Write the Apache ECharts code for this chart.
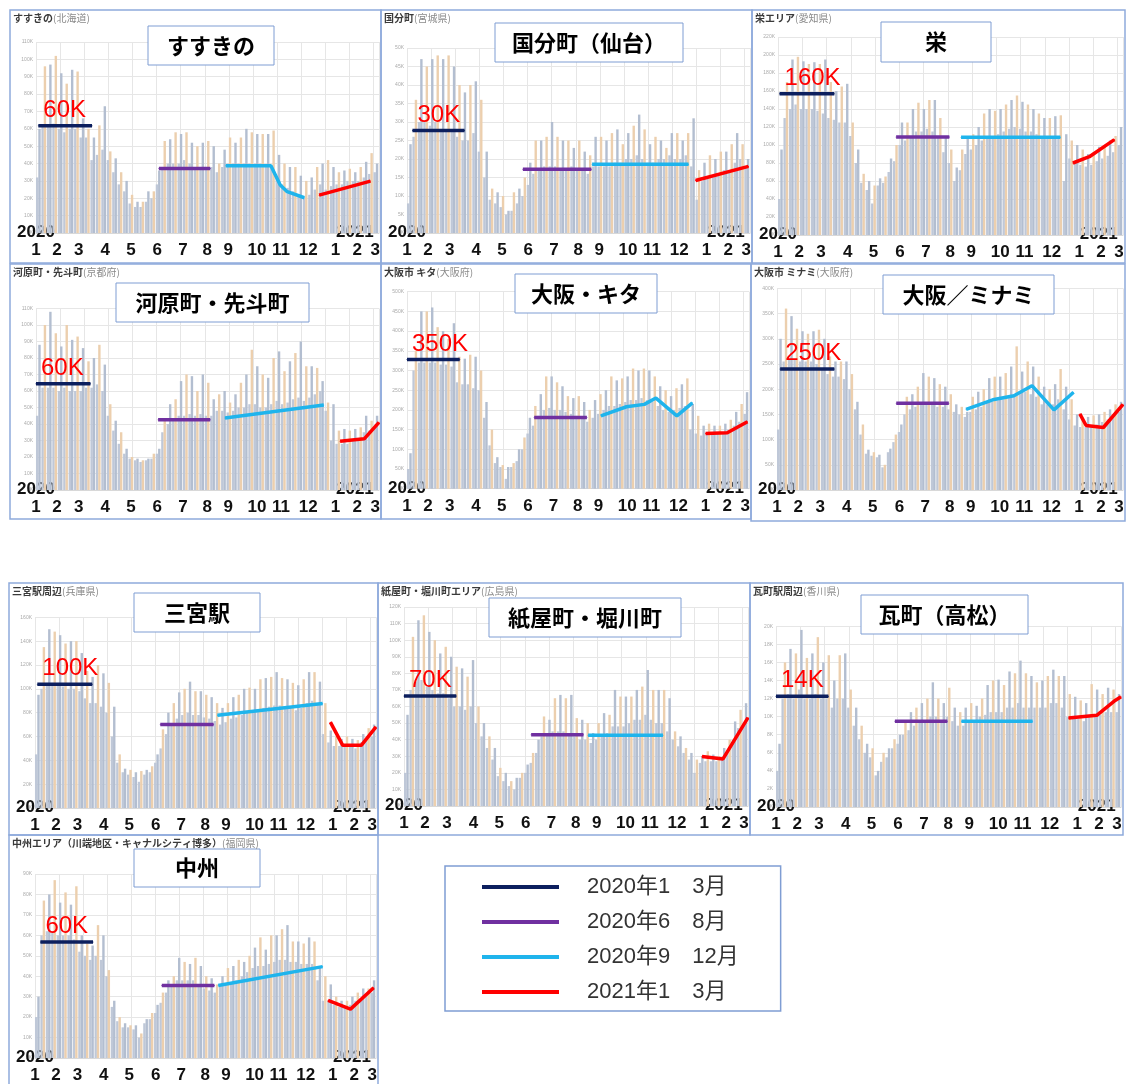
<!DOCTYPE html>
<html><head><meta charset="utf-8">
<script src="https://cdn.jsdelivr.net/npm/echarts@6/dist/echarts.min.js"></script>
<style>html,body{margin:0;padding:0;background:#fff}#c{width:1129px;height:1084px}</style>
</head><body><div id="c"></div>
<script>
// ---------- text ----------
const areaTitles = ['すすきの','国分町（仙台）','栄','河原町・先斗町','大阪・キタ','大阪／ミナミ','三宮駅','紙屋町・堀川町','瓦町（高松）','中州'];
const areaNames = ['すすきの','国分町','栄エリア','河原町・先斗町','大阪市 キタ','大阪市 ミナミ','三宮駅周辺','紙屋町・堀川町エリア','瓦町駅周辺','中州エリア（川端地区・キャナルシティ博多）'];
const prefectures = ['(北海道)','(宮城県)','(愛知県)','(京都府)','(大阪府)','(大阪府)','(兵庫県)','(広島県)','(香川県)','(福岡県)'];
const levelLabels = ['60K','30K','160K','60K','350K','250K','100K','70K','14K','60K'];
const periodNames = ['2020年1　3月','2020年6　8月','2020年9　12月','2021年1　3月'];
const monthLabels = ['1','2','3','4','5','6','7','8','9','10','11','12','1','2','3'];
const monthLabelDays = [0,27,55,89,122,156,189,220,247,284,315,350,385,413,436];
const yearLabels = ['2020','2021'];
const yearLabelDays = [0,410];
const yMax = [110,50,220,110,500,400,160,120,20,90];
const yStep = [10,5,20,10,50,50,20,10,2,10];

// ---------- weekly values (thousands of people), week k starts on day 7k from 2020-01-01 ----------
const peakSusukino = [60,96,97,102,92,86,94,93,66,60,55,62,73,47,43,35,30,22,18,18,24,24,36,53,54,58,57,58,52,50,52,53,50,40,48,55,52,55,60,58,57,57,57,59,45,40,38,38,33,30,32,38,40,42,38,35,36,37,35,38,41,46,40];
const baseSusukino = [32,62,62,63,60,58,60,60,55,55,42,45,48,42,35,28,24,17,15,15,18,20,28,38,40,40,40,42,40,38,38,38,38,35,38,40,40,40,40,40,40,40,38,38,32,28,26,24,22,20,22,25,28,25,27,28,28,30,30,30,32,34,35];
const peakKokubuncho = [24,36,47,45,47,48,47,48,45,40,38,40,41,36,22,12,11,10,6,11,12,15,19,25,25,26,30,26,25,25,23,25,22,21,26,26,25,27,28,24,27,29,32,28,24,26,25,23,27,27,25,27,31,17,19,21,20,22,22,24,27,24,20];
const baseKokubuncho = [8,26,30,30,29,30,28,28,28,26,25,25,27,22,15,9,8,7,5,6,8,10,13,16,17,18,18,18,17,17,18,17,17,16,18,18,18,18,19,19,20,20,21,20,19,19,20,20,21,20,20,21,18,9,14,15,15,16,17,17,19,20,18];
const peakSakae = [95,170,195,198,193,190,192,190,195,170,160,165,168,125,95,68,60,55,63,65,85,100,125,125,140,147,140,150,150,130,110,95,75,95,110,112,120,135,140,138,140,145,150,155,148,145,140,135,130,130,132,133,112,105,100,95,90,92,98,100,105,110,120];
const baseSakae = [40,130,140,145,140,140,140,138,135,130,128,125,125,110,80,58,50,35,55,58,70,82,100,105,110,115,115,118,115,110,92,80,60,72,90,95,100,105,110,110,112,115,118,120,118,115,115,112,110,110,110,108,60,85,82,78,76,78,82,85,88,92,100];
const peakKawaramachi = [88,100,108,95,87,100,91,93,86,78,80,88,76,52,42,35,25,20,19,18,19,22,25,42,52,55,66,70,69,60,70,65,55,58,60,53,58,65,70,85,75,70,68,80,84,72,78,83,90,75,75,74,66,53,52,36,37,36,37,38,45,42,45];
const baseKawaramachi = [45,62,62,62,60,62,60,60,60,62,62,64,60,45,36,28,22,19,18,17,18,19,22,35,40,42,45,45,46,45,46,45,45,48,48,47,48,50,50,52,52,50,50,52,54,52,53,55,56,54,56,58,60,48,30,28,28,28,30,30,35,36,38];
const peakKita = [90,350,450,450,460,410,400,380,420,335,330,340,335,300,220,150,80,60,55,65,100,130,180,210,240,285,285,270,260,235,230,235,220,200,225,240,250,285,275,280,285,305,300,305,300,285,260,250,235,255,265,280,215,185,160,165,160,160,165,175,195,215,245];
const baseKita = [50,300,320,320,320,320,315,315,310,270,265,265,255,250,180,110,65,55,25,55,70,100,140,160,185,200,205,200,200,195,190,185,180,170,180,190,200,210,210,215,220,225,225,230,225,220,210,200,195,200,205,210,150,140,135,140,140,140,140,150,160,170,190];
const peakMinami = [300,360,345,320,315,310,315,318,300,265,255,255,255,230,175,130,80,75,70,50,82,110,130,185,190,205,232,225,222,210,205,190,170,165,155,185,195,200,222,225,225,232,245,285,235,255,245,225,205,200,210,240,205,180,150,140,145,148,150,155,160,170,175];
const baseMinami = [120,255,260,260,255,255,255,250,240,230,225,225,220,200,160,110,72,68,65,45,75,95,115,150,160,165,170,170,170,165,165,160,155,150,145,155,160,165,175,175,178,180,185,190,190,195,190,185,170,170,170,180,160,140,128,125,125,128,130,135,140,150,155];
const peakSannomiya = [95,135,150,148,145,138,140,140,130,115,110,120,113,105,85,45,33,32,30,31,32,35,45,66,80,88,97,100,106,98,98,95,93,88,84,88,93,95,100,101,100,108,109,110,114,109,108,105,103,108,114,114,106,88,65,60,58,60,58,57,62,67,70];
const baseSannomiya = [45,100,105,105,105,102,100,100,98,92,88,88,85,80,60,38,30,28,26,22,28,30,38,50,62,70,75,78,80,78,78,76,75,73,70,72,75,76,78,80,80,82,84,85,86,86,85,84,82,84,88,90,88,62,55,52,52,52,52,50,55,58,60];
const peakKamiyacho = [55,102,112,115,105,100,92,96,90,84,83,78,88,60,50,42,35,23,20,15,17,20,25,32,40,54,52,65,67,65,67,53,52,50,44,50,56,55,70,66,66,66,70,72,82,70,70,70,65,45,42,35,32,28,30,33,31,30,35,40,51,58,62];
const baseKamiyacho = [20,70,75,76,72,70,68,68,65,60,60,58,60,50,42,35,28,18,15,12,10,17,20,26,32,42,43,45,45,45,44,42,40,40,38,40,42,44,48,48,48,50,52,52,55,52,50,50,45,40,36,32,28,20,26,27,27,27,28,33,40,47,50];
const peakKawaramachiTakamatsu = [7,16,17.5,17,19.6,16.5,17,18.8,16,16.8,14,16.8,17,13,11,9,7,6.5,4,6,6.5,7.5,8,9.5,10.5,11,11.5,12,13.8,12,11.5,13.2,11,10.5,11,11.5,11.2,12,13.5,14,14.1,13.5,15,14.8,16.2,14.8,14.5,13.8,14,14.5,15.2,14.5,14.5,12.5,12.2,11.8,11.5,13.6,13,12.5,13.2,13,12.5];
const baseKawaramachiTakamatsu = [4,12,12.5,12,13,12,12,12.5,12,12,11,12,12,11,9,7.5,6,5.5,3.5,5,5.5,6.5,7,8,8.5,9,9.5,9.5,10,10,9.5,10,9.5,9,9,9.5,9.5,10,10.2,10.5,10.5,10.5,11,11,11.5,11,11,11,11,11,11.5,11.5,11,10,10,9.8,9.5,10.2,10.2,10.2,10.5,10.5,10.5];
const peakNakasu = [30,77,80,87,76,81,75,84,60,56,55,65,60,43,28,20,17,16,16,12,19,22,26,32,38,40,49,47,46,49,45,40,39,36,40,44,45,48,47,50,54,59,53,60,60,63,65,57,57,56,59,57,45,40,36,30,28,28,30,32,34,34,38];
const baseNakasu = [20,60,62,62,60,60,60,58,52,50,48,50,48,40,25,18,15,15,14,10,17,19,22,27,32,35,38,38,38,38,36,34,33,32,35,36,37,38,40,42,44,45,45,46,47,48,48,47,47,46,46,46,38,28,28,26,25,25,26,28,29,30,32];

const peakValues = [peakSusukino,peakKokubuncho,peakSakae,peakKawaramachi,peakKita,peakMinami,peakSannomiya,peakKamiyacho,peakKawaramachiTakamatsu,peakNakasu];
const baseValues = [baseSusukino,baseKokubuncho,baseSakae,baseKawaramachi,baseKita,baseMinami,baseSannomiya,baseKamiyacho,baseKawaramachiTakamatsu,baseNakasu];

// ---------- period average lines: [day, value(K)] ----------
const avgJanMar2020 = [
 [[3,61.7],[72,61.7]],
 [[7,27.7],[74,27.7]],
 [[2,157],[72,157]],
 [[0,64.4],[70,64.4]],
 [[0,328],[68,328]],
 [[4,240],[73,240]],
 [[3,103.8],[74,103.8]],
 [[0,66.4],[67,66.4]],
 [[0,12.25],[67,12.25]],
 [[7,56.8],[75,56.8]]
];
const avgJunAug2020 = [
 [[158,37.2],[224,37.2]],
 [[149,17.2],[237,17.2]],
 [[151,109],[219,109]],
 [[157,42.6],[224,42.6]],
 [[164,181],[232,181]],
 [[152,172],[219,172]],
 [[162,70],[231,70]],
 [[163,43],[230,43]],
 [[152,9.5],[219,9.5]],
 [[164,35.5],[232,35.5]]
];
const avgSepDec2020 = [
 [[244,38.7],[302,38.7],[314,27.6],[323,23.8],[345,20.3]],
 [[238,18.6],[362,18.6]],
 [[234,108.5],[361,108.5]],
 [[243,43.6],[370,51.5]],
 [[250,185],[283,208],[306,214],[321,230],[348,185],[368,218]],
 [[241,160],[275,179],[302,187],[325,207],[353,159],[378,194]],
 [[236,77.8],[372,87.6]],
 [[236,42.7],[332,42.7]],
 [[237,9.5],[328,9.5]],
 [[237,35.5],[372,44.7]]
];
const avgJanMar2021 = [
 [[364,21.8],[430,29.9]],
 [[371,14.2],[439,18]],
 [[377,80],[398,87],[430,106]],
 [[391,29.5],[422,31],[441,41]],
 [[385,140],[413,142],[439,170]],
 [[386,151],[394,128],[416,124],[441,170]],
 [[382,72],[398,52.6],[422,52.6],[441,68]],
 [[382,29.8],[409,28.4],[441,53.3]],
 [[374,9.85],[410,10.15],[432,11.7],[441,12.2]],
 [[379,28.2],[408,23.9],[438,34.4]]
];
const periodLines = [avgJanMar2020, avgJunAug2020, avgSepDec2020, avgJanMar2021];

// ---------- layout & style ----------
const periodColors = ['#0c1f5e','#7030a0','#1fb4ec','#ff0000'];
const layout = [
 {x:10,y:10,w:371,h:253,top:32,base:223,box:[148,26,126,39]},
 {x:381,y:10,w:371,h:253,top:38,base:223,box:[495,23,188,39]},
 {x:752,y:10,w:373,h:253,top:27,base:225,box:[881,22,110,40]},
 {x:10,y:264,w:371,h:255,top:44.5,base:226,box:[116,283,193,39]},
 {x:381,y:264,w:370,h:255,top:27.7,base:224.7,box:[515,274,142,39]},
 {x:751,y:264,w:374,h:257,top:24.4,base:226,box:[883,275,171,39]},
 {x:9,y:583,w:369,h:252,top:34.3,base:225,box:[134,593,126,39]},
 {x:378,y:583,w:372,h:252,top:24,base:223,box:[489,598,192,39]},
 {x:750,y:583,w:373,h:252,top:43.3,base:224,box:[861,595,167,39]},
 {x:9,y:835,w:369,h:250,top:39,base:225,box:[134,849,126,38]}
];
const XMAX = 441;
const CJK = "'Noto Sans CJK JP', sans-serif";
const LAT = "'Liberation Sans', 'Noto Sans CJK JP', sans-serif";

const grids = [], xAxes = [], yAxes = [], series = [], graphics = [];
layout.forEach((L,i)=>{
  grids.push({left:L.x+26, top:L.y+L.top, width:L.w-28, height:L.base-L.top});
  xAxes.push({gridIndex:i, type:'value', min:0, max:XMAX, interval:31,
    axisLine:{show:true, lineStyle:{color:'#d8d8d8'}}, axisTick:{show:false},
    splitLine:{show:true, lineStyle:{color:'#e6e6e6', width:1}},
    axisLabel:{customValues:monthLabelDays, formatter:v=>monthLabels[monthLabelDays.indexOf(v)],
      fontSize:17, fontWeight:'bold', color:'#111', margin:9, fontFamily:LAT}});
  yAxes.push({gridIndex:i, type:'value', min:0, max:yMax[i], interval:yStep[i],
    axisLine:{show:false}, axisTick:{show:false},
    splitLine:{lineStyle:{color:'#e6e6e6', width:1}},
    axisLabel:{fontSize:5, color:'#aaaaaa', margin:3, formatter:v=>v+'K'}});
});
layout.forEach((L,i)=>{
  xAxes.push({gridIndex:i, type:'value', min:0, max:XMAX, position:'bottom',
    axisLine:{show:false}, axisTick:{show:false}, splitLine:{show:false},
    axisLabel:{customValues:yearLabelDays, formatter:v=>yearLabels[yearLabelDays.indexOf(v)],
      fontSize:17, fontWeight:'bold', color:'#111', margin:-9, fontFamily:LAT}});
});

for (let i=0;i<10;i++){
  series.push({type:'bar', xAxisIndex:i, yAxisIndex:i, barWidth:2.4, barGap:'-100%', silent:true, animation:false,
    itemStyle:{color:'#bfc8d8'}, data: baseValues[i].map((v,k)=>[k*7+1.5, v])});
  series.push({type:'bar', xAxisIndex:i, yAxisIndex:i, barWidth:2.4, barGap:'-100%', silent:true, animation:false,
    itemStyle:{color:p=>(p.dataIndex%2 ? '#eccfae' : '#b3bed0')}, data: peakValues[i].map((v,k)=>[k*7+4.5, v])});
  periodLines.forEach((arr,j)=>{
    series.push({type:'line', name:periodNames[j], xAxisIndex:i, yAxisIndex:i, z:5, silent:true, animation:false,
      symbol:'circle', symbolSize:1, showSymbol:true,
      lineStyle:{width:3.5, color:periodColors[j]}, itemStyle:{color:periodColors[j]},
      label:{show:false},
      data: arr[i].map((pt,k)=> (j===0 && k===0) ? {value:pt, label:{show:true, formatter:levelLabels[i],
        position:'top', align:'left', distance:3, offset:[5,0], fontSize:24, color:'#ff0000', fontFamily:LAT}} : pt)});
  });
}

layout.forEach((L,i)=>{
  graphics.push({type:'rect', z:100, shape:{x:L.x, y:L.y, width:L.w, height:L.h}, style:{fill:'none', stroke:'#8eaadb', lineWidth:1.5}});
  const b = L.box;
  graphics.push({type:'rect', z:101, shape:{x:b[0], y:b[1], width:b[2], height:b[3]}, style:{fill:'#ffffff', stroke:'#7f9dd3', lineWidth:1}});
  graphics.push({type:'text', z:102, x:b[0]+b[2]/2, y:b[1]+b[3]/2,
    style:{text:areaTitles[i], fontSize:22, fontWeight:'bold', fontFamily:CJK, fill:'#000',
      align:'center', verticalAlign:'middle', textAlign:'center', textVerticalAlign:'middle'}});
  graphics.push({type:'text', z:102, x:L.x+3, y:L.y+8,
    style:{text:'{n|'+areaNames[i]+'}{p|'+prefectures[i]+'}', fontFamily:CJK, fontSize:10,
      verticalAlign:'middle', textVerticalAlign:'middle',
      rich:{n:{fontSize:10, fontWeight:'bold', fill:'#3a3a3a', color:'#3a3a3a', fontFamily:CJK},
            p:{fontSize:10, fill:'#8a8a8a', color:'#8a8a8a', fontFamily:CJK}}}});
});

const chart = echarts.init(document.getElementById('c'), null, {renderer:'canvas'});
chart.setOption({
  animation:false,
  backgroundColor:'#ffffff',
  grid:grids, xAxis:xAxes, yAxis:yAxes, series:series,
  legend:{data:periodNames, orient:'vertical', left:445, top:866, icon:'rect', itemWidth:77, itemHeight:4, itemGap:13,
    selectedMode:false, padding:[10,42,8,37], borderColor:'#7f9dd3', borderWidth:1.5,
    textStyle:{fontSize:22, color:'#333', fontFamily:LAT, padding:[0,0,0,23]}},
  graphic:{elements:graphics}
});
</script></body></html>
